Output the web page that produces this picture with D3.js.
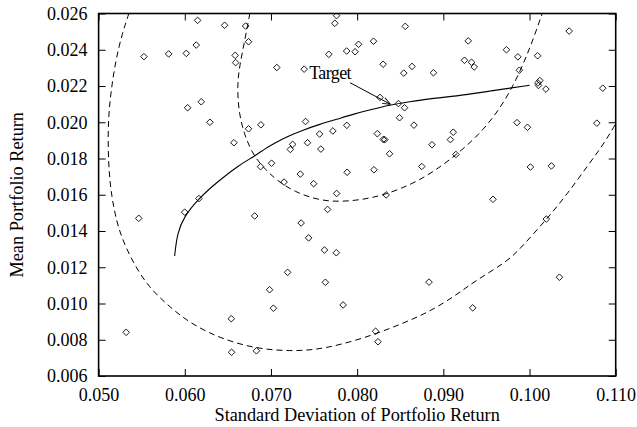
<!DOCTYPE html>
<html>
<head>
<meta charset="utf-8">
<script src="https://cdn.jsdelivr.net/npm/d3@7"></script>
<style>
  body { margin: 0; background: #fff; }
  text { font-family: "Liberation Serif", "Times New Roman", serif; }
</style>
</head>
<body>
<svg id="chart" width="637" height="427"></svg>
<script>
// --- data ---
const xTicks = [0.05, 0.06, 0.07, 0.08, 0.09, 0.10, 0.11];
const yTicks = [0.006, 0.008, 0.010, 0.012, 0.014, 0.016, 0.018, 0.020, 0.022, 0.024, 0.026];

// random portfolios (std dev, mean)
const portfolioSD = [0.06149,0.06462,0.06706,0.06740,0.06133,0.06017,0.05813,0.05526,0.06585,0.06590,
  0.06191,0.06033,0.06292,0.06740,0.06883,0.06570,0.06879,0.07007,0.06164,0.07068,
  0.07385,0.07401,0.07564,0.07424,0.07252,0.07225,0.07341,0.07495,0.07152,0.07579,
  0.07761,0.07741,0.08558,0.08016,0.08190,0.07878,0.07976,0.07671,0.08301,0.08541,
  0.08637,0.08885,0.08265,0.08479,0.08550,0.08492,0.08659,0.07880,0.07718,0.08234,
  0.08303,0.08321,0.08376,0.08868,0.07884,0.08195,0.08750,0.07762,0.08336,0.10460,
  0.09289,0.09732,0.09865,0.10094,0.09245,0.09327,0.09358,0.09882,0.10120,0.10097,
  0.10104,0.10190,0.10850,0.09855,0.09976,0.10781,0.09115,0.09082,0.09146,0.10010,
  0.10254,0.09576,0.07657,0.05999,0.05466,0.06811,0.06984,0.07028,0.06539,0.05320,
  0.06543,0.06831,0.07350,0.07437,0.07621,0.07758,0.07193,0.07631,0.08834,0.07837,
  0.08214,0.08242,0.10195,0.10347,0.09341];
const portfolioMean = [0.02562,0.02535,0.02531,0.02444,0.02426,0.02380,0.02377,0.02362,0.02369,0.02329,
  0.02113,0.02080,0.02000,0.01964,0.01986,0.01887,0.01755,0.01774,0.01579,0.02302,
  0.02293,0.02004,0.01935,0.01887,0.01878,0.01850,0.01714,0.01661,0.01670,0.01852,
  0.02588,0.02546,0.02529,0.02430,0.02447,0.02393,0.02389,0.02375,0.02320,0.02271,
  0.02308,0.02273,0.02137,0.02103,0.02080,0.02025,0.01984,0.01983,0.01952,0.01937,
  0.01905,0.01904,0.01826,0.01876,0.01724,0.01738,0.01756,0.01607,0.01599,0.02503,
  0.02449,0.02400,0.02361,0.02367,0.02342,0.02331,0.02305,0.02287,0.02230,0.02217,
  0.02203,0.02183,0.02188,0.01998,0.01972,0.01995,0.01945,0.01904,0.01822,0.01753,
  0.01759,0.01575,0.01519,0.01504,0.01470,0.01483,0.01076,0.00974,0.00916,0.00841,
  0.00731,0.00739,0.01444,0.01362,0.01295,0.01280,0.01172,0.01117,0.01118,0.00992,
  0.00847,0.00789,0.01466,0.01145,0.00976];

// frontier (solid line)
const frontierSD = [0.05882,0.05912,0.05990,0.06164,0.06358,0.06628,0.06802,0.06937,0.07042,0.07181,
  0.07373,0.07567,0.07761,0.07953,0.08147,0.08379,0.08610,0.08842,0.09089,0.09538,0.10002];
const frontierMean = [0.01262,0.01387,0.01479,0.01580,0.01663,0.01764,0.01810,0.01856,0.01884,0.01920,
  0.01957,0.01989,0.02016,0.02044,0.02068,0.02095,0.02113,0.02130,0.02141,0.02172,0.02204];

// inner dashed contour
const innerSD = [0.06755,0.06697,0.06634,0.06610,0.06622,0.06686,0.06802,0.06941,0.07068,0.07277,
  0.07544,0.07776,0.08042,0.08321,0.08703,0.09086,0.09480,0.09781,0.10013,0.10147];
const innerMean = [0.02601,0.02454,0.02306,0.02206,0.02068,0.01935,0.01810,0.01737,0.01679,0.01615,
  0.01571,0.01561,0.01571,0.01599,0.01670,0.01792,0.01957,0.02161,0.02415,0.02601];

// outer dashed contour
const outerSD = [0.05352,0.05275,0.05198,0.05140,0.05112,0.05109,0.05129,0.05179,0.05237,0.05314,
  0.05430,0.05584,0.05778,0.06010,0.06280,0.06590,0.06910,0.07219,0.07489,0.07799,
  0.08185,0.08533,0.08842,0.09152,0.09384,0.09747,0.09932,0.10199,0.10431,0.10697,0.10871,0.11045];
const outerMean = [0.02601,0.02491,0.02343,0.02160,0.02012,0.01847,0.01665,0.01516,0.01406,0.01312,
  0.01201,0.01091,0.01001,0.00909,0.00836,0.00780,0.00747,0.00738,0.00743,0.00771,
  0.00826,0.00891,0.00955,0.01047,0.01130,0.01232,0.01323,0.01466,0.01599,0.01775,0.01886,0.02029];

// annotation
const targetLabel = "Target";
const targetText = [0.07443, 0.02241];
const targetFrom = [0.07918, 0.02218];
const targetTo = [0.08387, 0.02099];

// --- layout ---
const svg = d3.select("#chart");
const mLeft = 98.6, mRight = 615.7, mTop = 13.5, mBottom = 376;

const x = d3.scaleLinear().domain([0.05, 0.11]).range([mLeft, mRight]);
const y = d3.scaleLinear().domain([0.006, 0.026]).range([mBottom, mTop]);
const fmt = d3.format(".3f");
const tick = 7;

const defs = svg.append("defs");
defs.append("clipPath").attr("id", "plot")
  .append("rect").attr("x", mLeft).attr("y", mTop)
  .attr("width", mRight - mLeft).attr("height", mBottom - mTop);

// axes with inward ticks on all four sides
const gx = svg.append("g").attr("transform", `translate(0,${mBottom})`)
  .call(d3.axisBottom(x).tickValues(xTicks).tickFormat(fmt).tickSizeInner(-tick).tickSizeOuter(0).tickPadding(12));
const gy = svg.append("g").attr("transform", `translate(${mLeft},0)`)
  .call(d3.axisLeft(y).tickValues(yTicks).tickFormat(fmt).tickSizeInner(-tick).tickSizeOuter(0).tickPadding(11));
const gt = svg.append("g").attr("transform", `translate(0,${mTop})`)
  .call(d3.axisTop(x).tickValues(xTicks).tickFormat("").tickSizeInner(-tick).tickSizeOuter(0));
const gr = svg.append("g").attr("transform", `translate(${mRight},0)`)
  .call(d3.axisRight(y).tickValues(yTicks).tickFormat("").tickSizeInner(-tick).tickSizeOuter(0));

[gx, gy, gt, gr].forEach(g => {
  g.select(".domain").remove();
  g.selectAll(".tick line").attr("stroke", "#000").attr("stroke-width", 1);
  g.selectAll(".tick text").attr("font-size", 18).attr("fill", "#000")
    .attr("font-family", "Liberation Serif, serif");
});

// dashed contours
const line = d3.line().x(d => x(d[0])).y(d => y(d[1])).curve(d3.curveBasis);
const plot = svg.append("g").attr("clip-path", "url(#plot)");

plot.append("path").datum(d3.zip(outerSD, outerMean))
  .attr("d", line).attr("fill", "none").attr("stroke", "#000")
  .attr("stroke-width", 1).attr("stroke-dasharray", "6,4");
plot.append("path").datum(d3.zip(innerSD, innerMean))
  .attr("d", line).attr("fill", "none").attr("stroke", "#000")
  .attr("stroke-width", 1).attr("stroke-dasharray", "6,4");

// frontier
plot.append("path").datum(d3.zip(frontierSD, frontierMean))
  .attr("d", line).attr("fill", "none").attr("stroke", "#000").attr("stroke-width", 1.1);

// diamonds
const r = 3.3;
plot.selectAll("path.pt").data(d3.zip(portfolioSD, portfolioMean)).enter()
  .append("path").attr("class", "pt")
  .attr("d", `M0,${-r}L${r},0L0,${r}L${-r},0Z`)
  .attr("transform", d => `translate(${x(d[0])},${y(d[1])})`)
  .attr("fill", "none").attr("stroke", "#000").attr("stroke-width", 0.9);

// target annotation
defs.append("marker").attr("id", "head")
  .attr("viewBox", "0 0 10 10").attr("refX", 10).attr("refY", 5)
  .attr("markerWidth", 8).attr("markerHeight", 8).attr("markerUnits", "userSpaceOnUse")
  .attr("orient", "auto")
  .append("path").attr("d", "M0,1L10,5L0,9").attr("fill", "none").attr("stroke", "#000").attr("stroke-width", 1.2);

svg.append("line")
  .attr("x1", x(targetFrom[0])).attr("y1", y(targetFrom[1]))
  .attr("x2", x(targetTo[0])).attr("y2", y(targetTo[1]))
  .attr("stroke", "#000").attr("stroke-width", 1).attr("marker-end", "url(#head)");

svg.append("text").attr("x", x(targetText[0])).attr("y", y(targetText[1]))
  .attr("font-size", 18).attr("letter-spacing", -0.6).text(targetLabel);

// frame
svg.append("rect").attr("x", mLeft).attr("y", mTop)
  .attr("width", mRight - mLeft).attr("height", mBottom - mTop)
  .attr("fill", "none").attr("stroke", "#000").attr("stroke-width", 1.6);

// axis titles
svg.append("text").attr("x", (mLeft + mRight) / 2).attr("y", 421)
  .attr("text-anchor", "middle").attr("font-size", 18.3)
  .text("Standard Deviation of Portfolio Return");
svg.append("text").attr("transform", `translate(23,${(mTop + mBottom) / 2}) rotate(-90)`)
  .attr("text-anchor", "middle").attr("font-size", 18.3)
  .text("Mean Portfolio Return");
</script>
</body>
</html>
